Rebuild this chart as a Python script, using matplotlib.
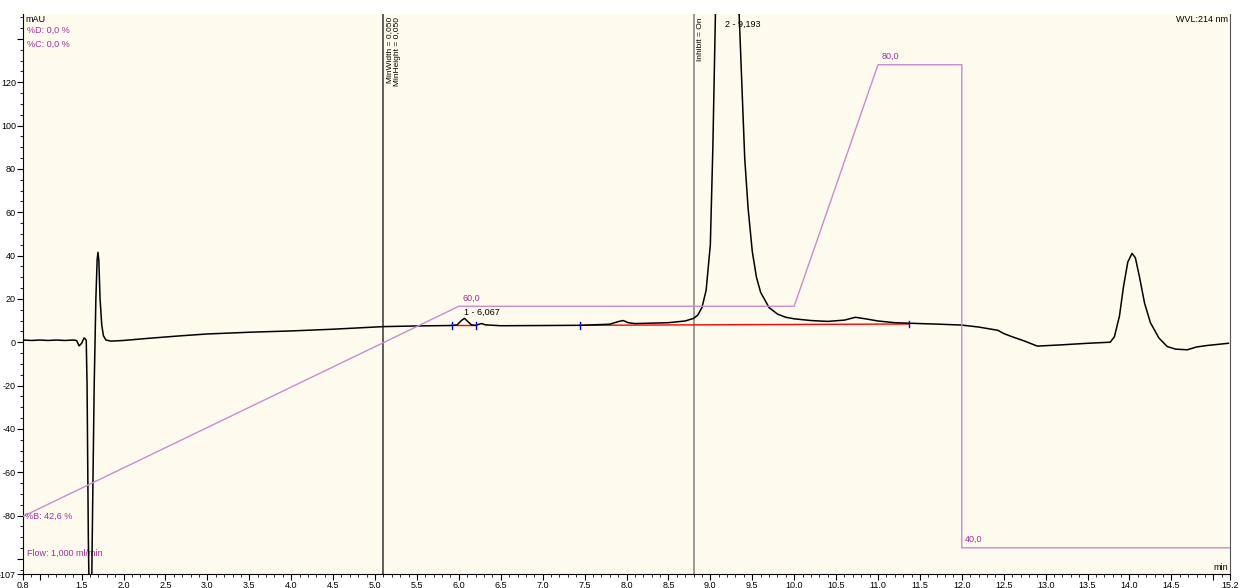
import numpy as np
import matplotlib
matplotlib.use('Agg')
import matplotlib.pyplot as plt
from matplotlib.ticker import MultipleLocator

plt.rcParams['font.family'] = ['Liberation Sans', 'DejaVu Sans']

# Chromatogram trace (time in min, signal in mAU)
trace_t = [0.80, 0.90, 1.00, 1.10, 1.20, 1.30, 1.40, 1.44, 1.47, 1.50, 1.53, 1.555,
           1.565, 1.58, 1.595, 1.615, 1.63, 1.65, 1.67, 1.685, 1.695, 1.705, 1.72,
           1.74, 1.76, 1.79, 1.85, 2.00, 2.30, 2.70, 3.00, 3.50, 4.00, 4.50, 5.10,
           5.50, 5.90, 5.98, 6.03, 6.067, 6.10, 6.15, 6.20, 6.27, 6.32, 6.50, 7.00,
           7.45, 7.80, 7.90, 7.96, 8.02, 8.10, 8.50, 8.70, 8.80, 8.85, 8.90, 8.95,
           9.00, 9.03, 9.06, 9.10, 9.193, 9.28, 9.32, 9.35, 9.38, 9.41, 9.45, 9.50,
           9.55, 9.60, 9.70, 9.80, 9.90, 10.00, 10.20, 10.40, 10.60, 10.73, 10.85,
           11.00, 11.20, 11.50, 11.74, 12.00, 12.20, 12.43, 12.50, 12.58, 12.75,
           12.90, 13.20, 13.50, 13.77, 13.82, 13.88, 13.93, 13.98, 14.03, 14.07,
           14.12, 14.18, 14.25, 14.35, 14.45, 14.55, 14.69, 14.80, 14.93, 15.18]
trace_mAU = [1.0, 0.8, 1.0, 0.8, 1.0, 0.8, 1.0, 0.8, -1.7, -0.5, 2.0, 1.0,
             -20, -90, -130, -130, -80, -20, 20, 38, 41.5, 38, 20,
             8, 3, 1, 0.5, 0.8, 1.8, 3.0, 3.8, 4.6, 5.2, 6.0, 7.2,
             7.5, 7.7, 8.0, 10.0, 11.0, 9.8, 8.0, 7.8, 8.6, 8.0, 7.6, 7.7,
             7.8, 8.3, 9.5, 10.0, 9.0, 8.6, 9.0, 9.8, 11.0, 12.5, 16, 24,
             45, 90, 150, 220, 260, 220, 175, 145, 115, 85, 62, 42,
             30, 23, 16, 13, 11.5, 10.8, 10.0, 9.6, 10.2, 11.5, 10.8,
             9.8, 9.0, 8.6, 8.3, 7.9, 7.0, 5.5, 4.0, 2.8, 0.5,
             -1.8, -1.2, -0.5, 0.0, 2.5, 12, 26, 37, 41, 39,
             30, 18, 9, 2, -2, -3.2, -3.5, -2.2, -1.5, -0.5]

# Gradient program (%B)
grad_t = [0.8, 6.0, 10.0, 11.0, 12.0, 12.0, 15.2]
grad_B = [42.6, 60.0, 60.0, 80.0, 80.0, 40.0, 40.0]
grad_labels = [(6.0, 60.0, '60,0'), (11.0, 80.0, '80,0'), (12.0, 40.0, '40,0')]

# Integrated peaks: (number, retention time, start, end, baseline start, baseline end)
peaks = [(1, 6.067, 5.92, 6.21, 7.8, 7.8),
         (2, 9.193, 7.45, 11.37, 7.8, 8.4)]

# Integration events
event_t = [5.1, 8.8]

x_ticks = [0.8] + list(np.arange(1.0, 15.01, 0.5)) + [15.2]
x_tick_labels = [('%.1f' % v).replace('.', ',') for v in x_ticks]
x_tick_labels[1] = ''     # 1,0 and 15,0 are not labelled
x_tick_labels[-2] = ''
y_ticks = [-107, -100, -80, -60, -40, -20, 0, 20, 40, 60, 80, 100, 120, 140]
y_tick_labels = ['-107', '', '-80', '-60', '-40', '-20', '0', '20', '40', '60',
                 '80', '100', '120', '']

purple_line = '#c98bd2'
purple_text = '#a0309f'

fig = plt.figure(figsize=(12.4, 5.88), dpi=100)
ax = fig.add_axes([0.0185, 0.0238, 0.9735, 0.9524])
ax.set_facecolor('#fffaee')

ax.plot(trace_t, trace_mAU, color='black', lw=1.1, zorder=5)

for n, rt, t0, t1, b0, b1 in peaks:
    ax.plot([t0, t1], [b0, b1], color='red', lw=1, zorder=4)
    ax.plot([t0, t0], [b0 - 1.5, b0 + 1.5], color='blue', lw=1, zorder=6)
    ax.plot([t1, t1], [b1 - 1.5, b1 + 1.5], color='blue', lw=1, zorder=6)

ax.text(6.067, 11.5, '1 - 6,067', fontsize=6.5, ha='left', va='bottom')
ax.text(9.17, 149, '2 - 9,193', fontsize=6.5, ha='left', va='top', zorder=7)

ax.axvline(event_t[0], color='#333333', lw=1.1)
ax.axvline(event_t[1], color='#808080', lw=1.1)
ax.text(event_t[0] + 0.03, 150, 'MinWidth = 0,050', rotation=90, fontsize=6,
        ha='left', va='top')
ax.text(event_t[0] + 0.13, 150, 'MinHeight = 0,050', rotation=90, fontsize=6,
        ha='left', va='top')
ax.text(event_t[1] + 0.04, 150, 'Inhibit = On', rotation=90, fontsize=6,
        ha='left', va='top')

ax.set_xlim(0.8, 15.2)
ax.set_ylim(-107, 151.5)
ax.set_xticks(x_ticks)
ax.set_xticklabels(x_tick_labels)
ax.xaxis.set_minor_locator(MultipleLocator(0.1))
ax.set_yticks(y_ticks)
ax.set_yticklabels(y_tick_labels)
ax.yaxis.set_minor_locator(MultipleLocator(5))
ax.tick_params(which='major', length=4, width=0.8, labelsize=6.5, pad=1)
ax.tick_params(which='minor', length=2, width=0.6)
ax.spines['top'].set_visible(False)
ax.spines['right'].set_color('#555555')

ax.text(0.002, 0.998, 'mAU', transform=ax.transAxes, fontsize=6.5, va='top')
ax.text(0.998, 0.998, 'WVL:214 nm', transform=ax.transAxes, fontsize=6.5,
        ha='right', va='top')
ax.text(0.998, 0.004, 'min', transform=ax.transAxes, fontsize=6.5,
        ha='right', va='bottom')

# %B gradient on a hidden second scale
ax2 = ax.twinx()
ax2.set_ylim(37.83, 84.2)
ax2.axis('off')
ax2.plot(grad_t, grad_B, color=purple_line, lw=1)
for t, b, s in grad_labels:
    ax2.text(t + 0.04, b + 0.3, s, color=purple_text, fontsize=6.5,
             ha='left', va='bottom')
ax2.text(0.83, 42.6, '%B: 42,6 %', color=purple_text, fontsize=6.5,
         ha='left', va='center')
ax.text(0.003, 0.970, '%D: 0,0 %', transform=ax.transAxes, color=purple_text,
        fontsize=6.5, va='center')
ax.text(0.003, 0.946, '%C: 0,0 %', transform=ax.transAxes, color=purple_text,
        fontsize=6.5, va='center')
ax.text(0.003, 0.0375, 'Flow: 1,000 ml/min', transform=ax.transAxes,
        color=purple_text, fontsize=6.5, va='center')

fig.savefig('out.png', dpi=100)
